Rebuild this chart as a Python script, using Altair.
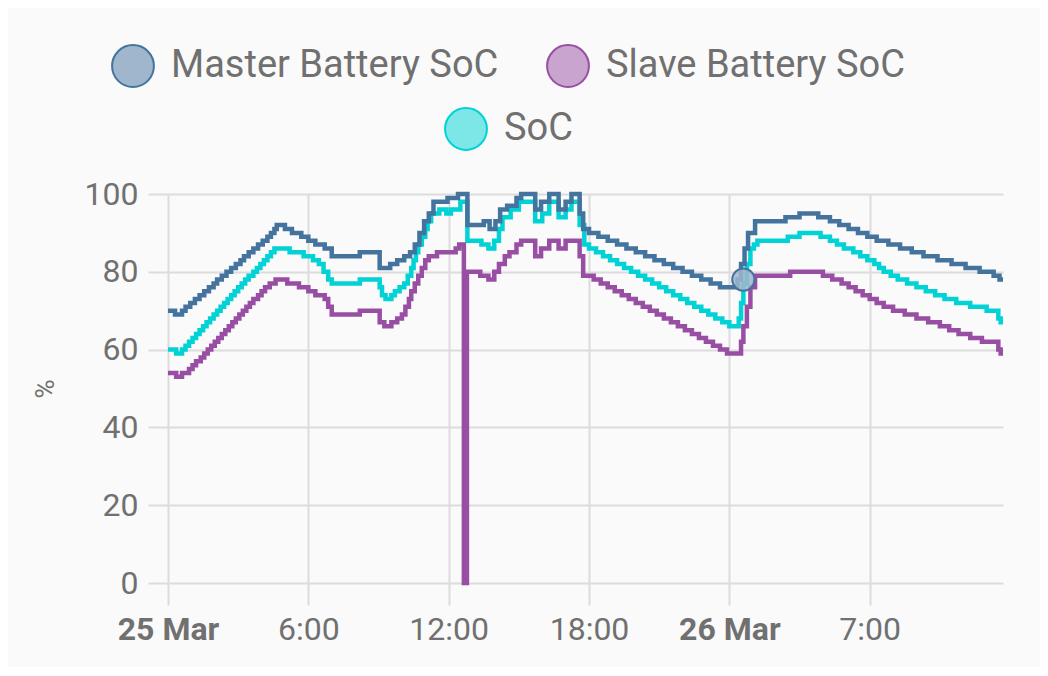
import altair as alt
import pandas as pd

SERIES = ["Master Battery SoC", "Slave Battery SoC", "SoC"]
LINE_COLORS = ["#44739e", "#984ea3", "#00d2d5"]
FILL_COLORS = ["#9fb6cc", "#c9a4ce", "#7de6e7"]

TICK_POS = [0, 6, 12, 18, 24, 30]
TICK_LABELS = ["25 Mar", "6:00", "12:00", "18:00", "26 Mar", "7:00"]
BOLD_TICKS = [0, 24]
Y_TICKS = [0, 20, 40, 60, 80, 100]

# hours since 25 Mar 00:00
master_t = [0.0, 0.3, 0.6, 0.75, 0.95, 1.15, 1.35, 1.55, 1.75, 1.95,
            2.1, 2.3, 2.5, 2.7, 2.9, 3.1, 3.25, 3.45, 3.65, 3.85,
            4.05, 4.25, 4.4, 4.55, 4.65, 5.0, 5.3, 5.7, 6.0, 6.3,
            6.7, 7.0, 8.2, 9.05, 9.5, 9.8, 10.1, 10.35, 10.55, 10.75,
            10.95, 11.15, 11.35, 11.95, 12.4, 12.8, 13.5, 13.75, 14.0, 14.2,
            14.5, 14.9, 15.1, 15.7, 15.95, 16.3, 16.7, 17.0, 17.25, 17.6,
            17.75, 18.0, 18.4, 18.8, 19.2, 19.6, 20.0, 20.4, 20.8, 21.2,
            21.6, 22.0, 22.4, 22.8, 23.2, 23.6, 24.35, 24.5, 24.65, 24.8,
            25.1, 26.4, 27.0, 27.8, 28.3, 28.7, 29.1, 29.5, 29.9, 30.3,
            30.8, 31.3, 31.8, 32.3, 32.9, 33.5, 34.1, 34.7, 35.3, 35.55,
            35.7]
master_v = [70, 69, 70, 71, 72, 73, 74, 75, 76, 77,
            78, 79, 80, 81, 82, 83, 84, 85, 86, 87,
            88, 89, 90, 91, 92, 91, 90, 89, 88, 87,
            86, 84, 85, 81, 82, 83, 84, 85, 87, 90,
            93, 95, 98, 99, 100, 92, 93, 91, 93, 96,
            97, 99, 100, 96, 98, 100, 96, 98, 100, 95,
            91, 90, 89, 88, 87, 86, 85, 84, 83, 82,
            81, 80, 79, 78, 77, 76, 78, 82, 86, 90,
            93, 94, 95, 94, 93, 92, 91, 90, 89, 88,
            87, 86, 85, 84, 83, 82, 81, 80, 79, 78,
            78]

slave_t = [0.0, 0.35, 0.6, 0.9, 1.05, 1.2, 1.4, 1.55, 1.7, 1.85,
           2.0, 2.15, 2.3, 2.45, 2.6, 2.75, 2.9, 3.05, 3.2, 3.35,
           3.5, 3.65, 3.85, 4.0, 4.15, 4.35, 4.6, 5.1, 5.6, 6.0,
           6.3, 6.7, 6.85, 7.0, 8.2, 9.05, 9.25, 9.55, 9.8, 10.0,
           10.15, 10.3, 10.4, 10.55, 10.7, 10.85, 11.0, 11.15, 11.5, 12.3,
           12.45, 12.65, 12.78, 13.35, 13.7, 13.95, 14.15, 14.4, 14.6, 14.9,
           15.1, 15.7, 15.95, 16.3, 16.7, 17.0, 17.6, 17.75, 18.2, 18.5,
           18.8, 19.1, 19.4, 19.7, 20.0, 20.3, 20.6, 20.9, 21.2, 21.5,
           21.8, 22.1, 22.4, 22.7, 23.0, 23.3, 23.6, 23.9, 24.5, 24.6,
           24.75, 24.9, 25.1, 26.6, 28.0, 28.4, 28.8, 29.1, 29.4, 29.7,
           30.0, 30.3, 30.6, 31.0, 31.5, 32.0, 32.5, 33.0, 33.4, 33.8,
           34.3, 34.8, 35.5, 35.6, 35.7]
slave_v = [54, 53, 54, 55, 56, 57, 58, 59, 60, 61,
           62, 63, 64, 65, 66, 67, 68, 69, 70, 71,
           72, 73, 74, 75, 76, 77, 78, 77, 76, 75,
           74, 73, 71, 69, 70, 67, 66, 67, 68, 69,
           71, 73, 75, 77, 79, 81, 83, 84, 85, 86,
           87, 0, 80, 79, 78, 80, 82, 84, 85, 87,
           88, 84, 86, 88, 86, 88, 84, 79, 78, 77,
           76, 75, 74, 73, 72, 71, 70, 69, 68, 67,
           66, 65, 64, 63, 62, 61, 60, 59, 62, 66,
           71, 76, 79, 80, 79, 78, 77, 76, 75, 74,
           73, 72, 71, 70, 69, 68, 67, 66, 65, 64,
           63, 62, 60, 59, 59]

soc_t = [0.0, 0.35, 0.6, 0.75, 0.9, 1.05, 1.2, 1.35, 1.5, 1.65,
         1.8, 1.95, 2.1, 2.25, 2.4, 2.55, 2.7, 2.85, 3.0, 3.15,
         3.3, 3.45, 3.65, 3.8, 3.95, 4.1, 4.25, 4.4, 4.55, 5.2,
         5.8, 6.2, 6.45, 6.65, 6.85, 7.0, 8.2, 9.05, 9.15, 9.3,
         9.55, 9.7, 9.9, 10.1, 10.25, 10.4, 10.5, 10.6, 10.7, 10.85,
         11.0, 11.1, 11.25, 11.6, 11.9, 12.1, 12.5, 12.8, 13.4, 13.7,
         13.95, 14.15, 14.3, 14.65, 15.0, 15.7, 16.0, 16.3, 16.7, 17.0,
         17.25, 17.6, 17.8, 18.0, 18.3, 18.6, 18.9, 19.2, 19.5, 19.8,
         20.1, 20.4, 20.7, 21.0, 21.3, 21.6, 21.9, 22.2, 22.5, 22.8,
         23.1, 23.4, 23.7, 24.0, 24.4, 24.5, 24.6, 24.75, 24.9, 25.05,
         25.2, 26.5, 27.0, 27.9, 28.3, 28.6, 28.9, 29.3, 29.6, 29.9,
         30.2, 30.4, 30.6, 30.9, 31.2, 31.6, 32.0, 32.4, 32.8, 33.2,
         33.7, 34.3, 35.0, 35.5, 35.6, 35.7]
soc_v = [60, 59, 60, 61, 62, 63, 64, 65, 66, 67,
         68, 69, 70, 71, 72, 73, 74, 75, 76, 77,
         78, 79, 80, 81, 82, 83, 84, 85, 86, 85,
         84, 83, 82, 80, 78, 77, 78, 76, 74, 73,
         74, 75, 76, 77, 79, 81, 83, 85, 87, 89,
         91, 93, 95, 96, 95, 96, 98, 88, 87, 86,
         88, 91, 94, 96, 98, 93, 95, 98, 94, 96,
         98, 92, 87, 86, 85, 84, 83, 82, 81, 80,
         79, 78, 77, 76, 75, 74, 73, 72, 71, 70,
         69, 68, 67, 66, 68, 72, 77, 82, 86, 87,
         88, 89, 90, 89, 88, 87, 86, 85, 84, 83,
         82, 81, 80, 79, 78, 77, 76, 75, 74, 73,
         72, 71, 70, 68, 67, 67]

hover_t = [24.6]
hover_v = [78]
hover_series = ["Master Battery SoC"]

rows = []
for name, ts, vs in [(SERIES[0], master_t, master_v),
                     (SERIES[1], slave_t, slave_v),
                     (SERIES[2], soc_t, soc_v)]:
    assert len(ts) == len(vs), name
    rows += [{"t": t, "v": v, "series": name} for t, v in zip(ts, vs)]
df = pd.DataFrame(rows)
df_ms = df[df.series != "SoC"]
df_s = df[df.series == "SoC"]
hover = pd.DataFrame({"t": hover_t, "v": hover_v, "series": hover_series})

FONT = "Roboto"
GREY = "#707070"
GRID = "#dcdcdc"

label_expr = " : ".join(
    f"datum.value === {p} ? '{l}'" for p, l in zip(TICK_POS, TICK_LABELS)
) + " : ''"
bold_test = " || ".join(f"datum.value === {b}" for b in BOLD_TICKS)

x_enc = alt.X(
    "t:Q",
    scale=alt.Scale(domain=[0, 35.7], nice=False, zero=False),
    axis=alt.Axis(
        values=TICK_POS, labelExpr=label_expr, title=None,
        grid=True, gridColor=GRID, gridWidth=2,
        domain=False, ticks=True, tickColor=GRID, tickWidth=2, tickSize=22,
        labelFont=FONT, labelFontSize=32, labelColor=GREY, labelPadding=9,
        labelFontWeight={"condition": {"test": bold_test, "value": "bold"}, "value": "normal"},
        labelFlush=False,
    ),
)
y_enc = alt.Y(
    "v:Q",
    scale=alt.Scale(domain=[0, 100], nice=False),
    axis=alt.Axis(
        values=Y_TICKS, title="%",
        grid=True, gridColor=GRID, gridWidth=2,
        domain=False, ticks=True, tickColor=GRID, tickWidth=2, tickSize=20,
        labelFont=FONT, labelFontSize=32, labelColor=GREY, labelPadding=10,
        titleFont=FONT, titleFontSize=26, titleFontWeight="normal",
        titleColor=GREY, titlePadding=26,
    ),
)


def make_legend(x, y):
    return alt.Legend(
        title=None, orient="none", legendX=x, legendY=y, direction="horizontal",
        symbolType="circle", symbolSize=1750, symbolStrokeWidth=2, symbolOpacity=1,
        labelFont=FONT, labelFontSize=38, labelColor=GREY, labelOffset=16,
        columnPadding=44, padding=0, labelLimit=600,
    )


leg1 = make_legend(-57, -150)
leg2 = make_legend(276, -87)

stroke1 = alt.Scale(domain=SERIES[:2], range=LINE_COLORS[:2])
fill1 = alt.Scale(domain=SERIES[:2], range=FILL_COLORS[:2])
stroke2 = alt.Scale(domain=SERIES[2:], range=LINE_COLORS[2:])
fill2 = alt.Scale(domain=SERIES[2:], range=FILL_COLORS[2:])

LW = 4.5

lines1 = alt.Chart(df_ms).mark_line(interpolate="step-after", strokeWidth=LW).encode(
    x=x_enc, y=y_enc,
    stroke=alt.Stroke("series:N", scale=stroke1, legend=leg1),
)
marker1 = alt.Chart(hover).mark_point(filled=True, size=500, strokeWidth=2, fillOpacity=0.85).encode(
    x=x_enc, y=y_enc,
    fill=alt.Fill("series:N", scale=fill1, legend=leg1),
    stroke=alt.Stroke("series:N", scale=stroke1, legend=leg1),
)
group1 = alt.layer(lines1, marker1)

lines2 = alt.Chart(df_s).mark_line(interpolate="step-after", strokeWidth=LW).encode(
    x=x_enc, y=y_enc,
    stroke=alt.Stroke("series:N", scale=stroke2, legend=leg2),
)
marker2 = alt.Chart(df_s).transform_filter("datum.t < 0").mark_point(
    filled=True, size=500, strokeWidth=2
).encode(
    x=x_enc, y=y_enc,
    fill=alt.Fill("series:N", scale=fill2, legend=leg2),
    stroke=alt.Stroke("series:N", scale=stroke2, legend=leg2),
)
group2 = alt.layer(lines2, marker2)

chart = (
    alt.layer(group2, group1)
    .resolve_scale(stroke="independent", fill="independent")
    .properties(
        width=835, height=389,
        autosize=alt.AutoSizeParams(type="none"),
        padding={"left": 160, "top": 186, "right": 37, "bottom": 84},
        background="#fafafa",
    )
    .configure_view(strokeWidth=0)
)

chart.save("out.html", embed_options={"renderer": "svg", "actions": False})
